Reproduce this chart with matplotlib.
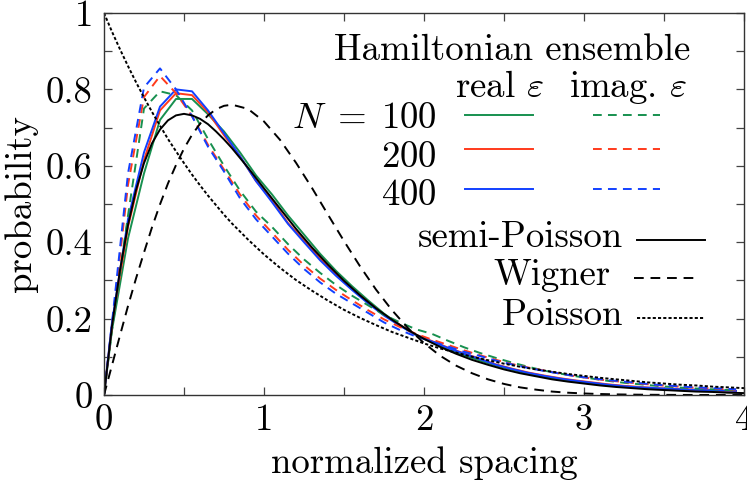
import matplotlib
matplotlib.use("Agg")
import matplotlib.pyplot as plt
from matplotlib.lines import Line2D

plt.rcParams['font.family'] = 'serif'
plt.rcParams['font.serif'] = ['cmr10']
plt.rcParams['mathtext.fontset'] = 'cm'
plt.rcParams['axes.unicode_minus'] = False
plt.rcParams['axes.formatter.use_mathtext'] = True

# ---------------- data ----------------
s_sim = [0.0, 0.05, 0.15, 0.25, 0.35, 0.45, 0.55, 0.65, 0.75, 0.85, 0.95,
         1.05, 1.15, 1.25, 1.35, 1.45, 1.55, 1.65, 1.75, 1.85, 1.95,
         2.05, 2.15, 2.25, 2.35, 2.45, 2.55, 2.65, 2.75, 2.85, 2.95,
         3.05, 3.15, 3.25, 3.35, 3.45, 3.55, 3.65, 3.75, 3.85, 3.95]

real_100 = [0.0, 0.17, 0.41, 0.58, 0.72, 0.775, 0.775, 0.735, 0.69, 0.635, 0.575,
            0.525, 0.47, 0.42, 0.37, 0.325, 0.285, 0.248, 0.213, 0.183, 0.157,
            0.138, 0.12, 0.104, 0.09, 0.077, 0.066, 0.056, 0.048, 0.041, 0.035,
            0.03, 0.026, 0.022, 0.019, 0.016, 0.014, 0.012, 0.011, 0.01, 0.009]
real_200 = [0.0, 0.185, 0.44, 0.615, 0.745, 0.79, 0.785, 0.74, 0.68, 0.625, 0.56,
            0.51, 0.45, 0.405, 0.357, 0.315, 0.278, 0.243, 0.21, 0.183, 0.158,
            0.141, 0.124, 0.109, 0.095, 0.08, 0.069, 0.059, 0.051, 0.044, 0.038,
            0.033, 0.028, 0.024, 0.021, 0.018, 0.016, 0.014, 0.013, 0.011, 0.010]
real_400 = [0.0, 0.19, 0.46, 0.635, 0.755, 0.80, 0.795, 0.745, 0.685, 0.625, 0.56,
            0.505, 0.448, 0.40, 0.353, 0.312, 0.275, 0.24, 0.208, 0.181, 0.157,
            0.14, 0.123, 0.108, 0.094, 0.079, 0.068, 0.058, 0.05, 0.043, 0.037,
            0.032, 0.027, 0.023, 0.02, 0.018, 0.016, 0.014, 0.013, 0.012, 0.011]

imag_100 = [0.0, 0.17, 0.47, 0.75, 0.795, 0.785, 0.745, 0.67, 0.60, 0.535, 0.48,
            0.44, 0.395, 0.355, 0.32, 0.288, 0.26, 0.235, 0.21, 0.19, 0.172,
            0.160, 0.142, 0.125, 0.11, 0.097, 0.085, 0.074, 0.064, 0.056, 0.049,
            0.043, 0.037, 0.032, 0.028, 0.024, 0.021, 0.018, 0.016, 0.014, 0.012]
imag_200 = [0.0, 0.18, 0.55, 0.78, 0.835, 0.79, 0.73, 0.655, 0.59, 0.525, 0.47,
            0.425, 0.38, 0.34, 0.305, 0.275, 0.248, 0.222, 0.198, 0.178, 0.16,
            0.145, 0.131, 0.117, 0.104, 0.092, 0.081, 0.072, 0.064, 0.056, 0.049,
            0.043, 0.038, 0.034, 0.030, 0.026, 0.023, 0.020, 0.018, 0.016, 0.014]
imag_400 = [0.0, 0.19, 0.58, 0.805, 0.855, 0.80, 0.73, 0.65, 0.585, 0.515, 0.46,
            0.415, 0.37, 0.33, 0.295, 0.265, 0.24, 0.215, 0.19, 0.17, 0.153,
            0.14, 0.127, 0.113, 0.102, 0.09, 0.08, 0.071, 0.063, 0.056, 0.049,
            0.044, 0.039, 0.035, 0.031, 0.027, 0.024, 0.021, 0.019, 0.017, 0.015]

s_th = [0.0, 0.05, 0.1, 0.15, 0.2, 0.25, 0.3, 0.35, 0.4, 0.45, 0.5, 0.55, 0.6, 0.65, 0.7,
        0.75, 0.8, 0.9, 1.0,
        1.1, 1.2, 1.3, 1.4, 1.5, 1.6, 1.7, 1.8, 1.9, 2.0,
        2.1, 2.2, 2.3, 2.4, 2.5, 2.6, 2.7, 2.8, 2.9, 3.0,
        3.1, 3.2, 3.3, 3.4, 3.5, 3.6, 3.7, 3.8, 3.9, 4.0]
semi_poisson = [0.0, 0.181, 0.327, 0.445, 0.536, 0.607, 0.659, 0.695, 0.719, 0.732, 0.736, 0.732,
                0.723, 0.709, 0.690, 0.669, 0.646, 0.595, 0.541,
                0.488, 0.435, 0.386, 0.341, 0.299, 0.261, 0.227, 0.197, 0.170, 0.147,
                0.126, 0.108, 0.092, 0.079, 0.067, 0.057, 0.049, 0.041, 0.035, 0.030,
                0.025, 0.021, 0.018, 0.015, 0.013, 0.011, 0.009, 0.008, 0.006, 0.005]
wigner = [0.0, 0.078, 0.156, 0.233, 0.305, 0.373, 0.439, 0.499, 0.554, 0.602, 0.645, 0.681,
          0.710, 0.732, 0.748, 0.757, 0.760, 0.749, 0.716,
          0.668, 0.608, 0.542, 0.472, 0.403, 0.337, 0.276, 0.222, 0.175, 0.136,
          0.103, 0.077, 0.057, 0.041, 0.029, 0.020, 0.014, 0.009, 0.006, 0.004,
          0.0026, 0.0016, 0.0010, 0.0006, 0.0004, 0.0002, 0.0001, 0.0001, 0.0, 0.0]
poisson = [1.0, 0.951, 0.905, 0.861, 0.819, 0.779, 0.741, 0.705, 0.670, 0.638, 0.607, 0.577,
           0.549, 0.522, 0.497, 0.472, 0.449, 0.407, 0.368,
           0.333, 0.301, 0.273, 0.247, 0.223, 0.202, 0.183, 0.165, 0.150, 0.135,
           0.122, 0.111, 0.100, 0.091, 0.082, 0.074, 0.067, 0.061, 0.055, 0.050,
           0.045, 0.041, 0.037, 0.033, 0.030, 0.027, 0.025, 0.022, 0.020, 0.018]

x_ticks = [0, 1, 2, 3, 4]
y_ticks = [0, 0.2, 0.4, 0.6, 0.8, 1]
y_tick_labels = ['0', '0.2', '0.4', '0.6', '0.8', '1']
N_labels = ['100', '200', '400']

# ---------------- style ----------------
GREEN = '#17904f'
RED = '#ff3a1c'
BLUE = '#1240ff'
colors = [GREEN, RED, BLUE]
LW = 1.4
DASH_SIM = (4.5, 3.2)
DASH_W = (5, 3.5)
DOT_P = (1.6, 1.1)
FS = 26.5

fig = plt.figure(figsize=(7.47, 4.83), dpi=100)
ax = fig.add_axes([104/747, 1-395/483, 640/747, 382/483])

for ys, c in zip([real_100, real_200, real_400], colors):
    ax.plot(s_sim, ys, color=c, lw=LW)
for ys, c in zip([imag_100, imag_200, imag_400], colors):
    ax.plot(s_sim, ys, color=c, lw=LW, dashes=DASH_SIM)
ax.plot(s_th, semi_poisson, color='black', lw=LW)
ax.plot(s_th, wigner, color='black', lw=LW, dashes=DASH_W)
ax.plot(s_th, poisson, color='black', lw=LW, dashes=DOT_P)

ax.set_xlim(0, 4)
ax.set_ylim(0, 1)
ax.set_xticks(x_ticks)
ax.set_xticklabels([str(t) for t in x_ticks])
ax.set_yticks(y_ticks)
ax.set_yticklabels(y_tick_labels)
ax.set_xticks([0.5, 1.5, 2.5, 3.5], minor=True)
ax.set_yticks([0.1, 0.3, 0.5, 0.7, 0.9], minor=True)
ax.tick_params(which='both', direction='in', top=True, right=True,
               length=6, width=0.9, color='#444444', labelsize=FS)
ax.tick_params(axis='x', pad=6)
ax.tick_params(axis='y', pad=8)
for sp in ax.spines.values():
    sp.set_linewidth(1.0)
    sp.set_color('#333333')

ax.set_xlabel('normalized spacing', fontsize=FS, labelpad=7)
ax.set_ylabel('probability', fontsize=FS, labelpad=6)

# ---------------- legend (manual) ----------------
T = ax.transAxes
ax.text(0.6375, 0.877, 'Hamiltonian ensemble', transform=T, ha='center', va='baseline', fontsize=FS)
ax.text(0.619, 0.780, r'real $\varepsilon$', transform=T, ha='center', va='baseline', fontsize=FS)
ax.text(0.819, 0.780, r'imag. $\varepsilon$', transform=T, ha='center', va='baseline', fontsize=FS)
row_txt_y = [0.699, 0.597, 0.497]
row_line_y = [0.733, 0.644, 0.539]
for i, (lab, c) in enumerate(zip(N_labels, colors)):
    txt = r'$N\;=\;%s$' % lab if i == 0 else r'$%s$' % lab
    ax.text(0.520, row_txt_y[i], txt, transform=T, ha='right', va='baseline', fontsize=FS)
    ax.add_line(Line2D([0.564, 0.670], [row_line_y[i]] * 2, transform=T, color=c, lw=LW))
    ax.add_line(Line2D([0.764, 0.869], [row_line_y[i]] * 2, transform=T, color=c, lw=LW, dashes=DASH_SIM))

ax.text(0.811, 0.387, 'semi-Poisson', transform=T, ha='right', va='baseline', fontsize=FS)
ax.add_line(Line2D([0.833, 0.939], [0.406] * 2, transform=T, color='black', lw=LW))
ax.text(0.791, 0.288, 'Wigner', transform=T, ha='right', va='baseline', fontsize=FS)
ax.add_line(Line2D([0.828, 0.923], [0.306] * 2, transform=T, color='black', lw=LW, dashes=DASH_W))
ax.text(0.811, 0.183, 'Poisson', transform=T, ha='right', va='baseline', fontsize=FS)
ax.add_line(Line2D([0.833, 0.939], [0.202] * 2, transform=T, color='black', lw=LW, dashes=DOT_P))

fig.savefig('out.png', dpi=100)
